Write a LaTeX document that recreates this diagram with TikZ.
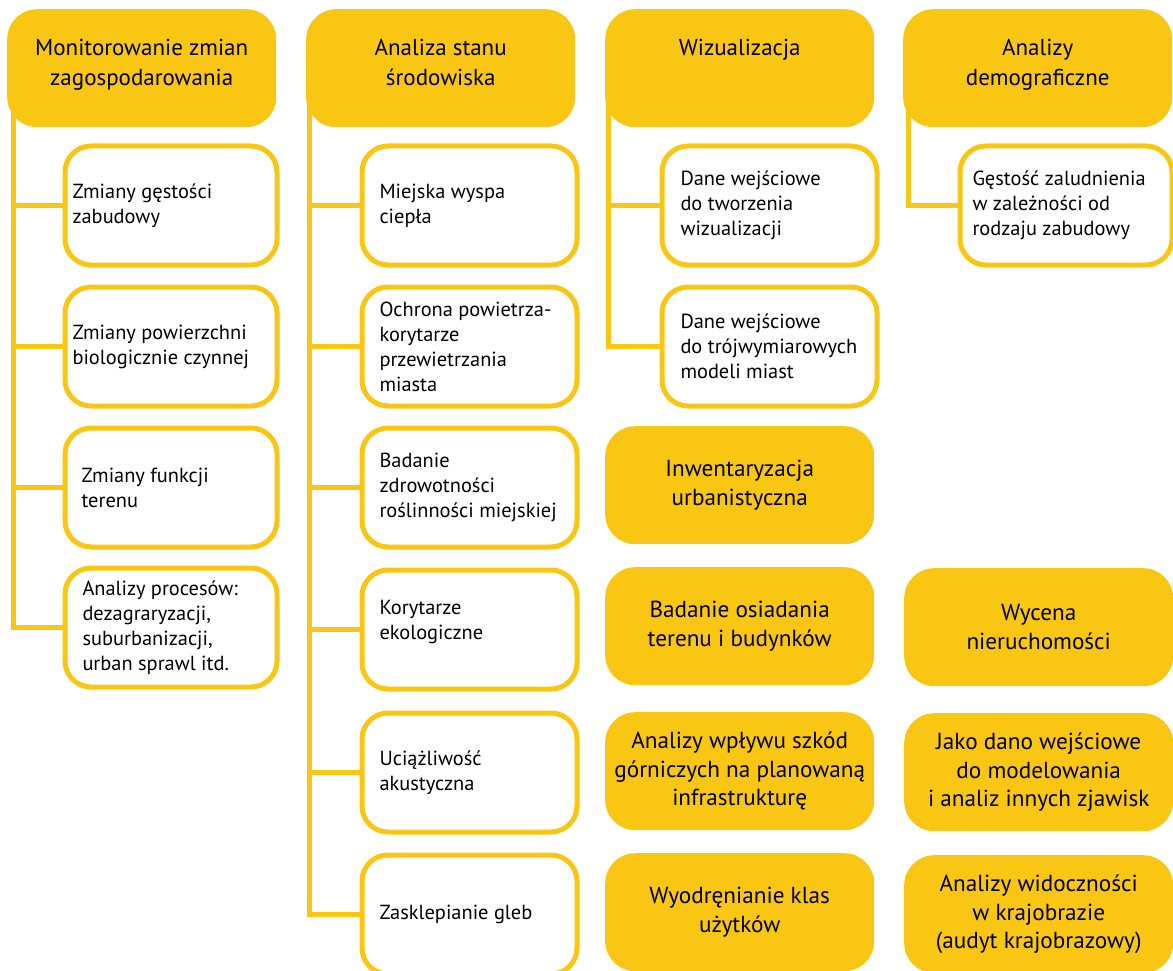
\documentclass[tikz,border=0pt]{standalone}
\usepackage{fontspec}
\setmainfont{PT Sans}
\definecolor{gold}{RGB}{250,198,20}
\newcommand{\hdtx}[1]{\parbox[c][118pt][t]{269pt}{\centering\rule{0pt}{46pt}#1}}
\newcommand{\fltx}[1]{\parbox[c][118pt][c]{269pt}{\centering #1}}
\newcommand{\chtx}[3]{\parbox[c][119pt][c]{#1}{\raggedright\leftskip=#2 #3}}
\begin{document}
\begin{tikzpicture}[x=1pt,y=-1pt,
  conn/.style={draw=gold,line width=5pt},
  hdr/.style={fill=gold,rounded corners=30pt,inner sep=0pt,anchor=north west,
    font=\fontsize{23}{30}\selectfont},
  fillbox/.style={fill=gold,rounded corners=30pt,inner sep=0pt,anchor=north west,
    font=\fontsize{23.2}{28.5}\selectfont},
  cbox/.style={draw=gold,fill=white,line width=5pt,rounded corners=26pt,inner sep=0pt,
    anchor=north west,font=\fontsize{20.4}{25}\selectfont}]
\useasboundingbox (0,0) rectangle (1173,971);

% trunk coordinates
\coordinate (t1) at (13.3,90);
\coordinate (t2) at (309.5,90);
\coordinate (t3) at (608.7,90);
\coordinate (t4) at (908,90);

% child boxes column 1
\node[cbox] (c11) at (62.5,143.5) {\chtx{212pt}{7.5pt}{Zmiany gęstości\\zabudowy}};
\node[cbox] (c12) at (62.5,284.5) {\chtx{212pt}{7.5pt}{Zmiany powierzchni\\biologicznie czynnej}};
\node[cbox] (c13) at (62.5,425.5) {\chtx{212pt}{16.5pt}{Zmiany funkcji\\terenu}};
\node[cbox] (c14) at (62.5,565.5) {\chtx{212pt}{17.5pt}{Analizy procesów:\\dezagraryzacji,\\suburbanizacji,\\urban sprawl itd.}};

% child boxes column 2
\node[cbox] (c21) at (359.5,143.5) {\chtx{215pt}{17.5pt}{Miejska wyspa\\ciepła}};
\node[cbox] (c22) at (359.5,284.5) {\chtx{215pt}{17.5pt}{Ochrona powietrza-\\korytarze\\przewietrzania\\miasta}};
\node[cbox] (c23) at (359.5,425.5) {\chtx{215pt}{17.5pt}{Badanie\\zdrowotności\\roślinności miejskiej}};
\node[cbox] (c24) at (359.5,567.5) {\chtx{215pt}{17.5pt}{Korytarze\\ekologiczne\par\vspace*{14pt}}};
\node[cbox] (c25) at (359.5,710.5) {\chtx{215pt}{17.5pt}{Uciążliwość\\akustyczna}};
\node[cbox] (c26) at (359.5,852.5) {\chtx{215pt}{17.5pt}{Zasklepianie gleb}};

% child boxes column 3
\node[cbox] (c31) at (659.5,143.5) {\chtx{215pt}{18.5pt}{Dane wejściowe\\do tworzenia\\wizualizacji}};
\node[cbox] (c32) at (659.5,284.5) {\chtx{215pt}{18.5pt}{Dane wejściowe\\do trójwymiarowych\\modeli miast}};

% child box column 4
\node[cbox] (c41) at (957.5,143.5) {\chtx{212pt}{12.5pt}{Gęstość zaludnienia\\w zależności od\\rodzaju zabudowy}};

% connectors
\draw[conn] (t1) |- (c11.west);
\draw[conn] (t1) |- (c12.west);
\draw[conn] (t1) |- (c13.west);
\draw[conn] (t1) |- (c14.west);
\draw[conn] (t2) |- (c21.west);
\draw[conn] (t2) |- (c22.west);
\draw[conn] (t2) |- (c23.west);
\draw[conn] (t2) |- (c24.west);
\draw[conn] (t2) |- (c25.west);
\draw[conn] (t2) |- (c26.west);
\draw[conn] (t3) |- (c31.west);
\draw[conn] (t3) |- (c32.west);
\draw[conn] (t4) |- (c41.west);

% headers
\node[hdr] (h1) at (7,9) {\hdtx{Monitorowanie zmian\\zagospodarowania}};
\node[hdr] (h2) at (306,9) {\hdtx{Analiza stanu\\środowiska}};
\node[hdr] (h3) at (605,9) {\hdtx{Wizualizacja}};
\node[hdr] (h4) at (903,9) {\hdtx{Analizy\\demograficzne}};

% filled boxes
\node[fillbox] (f1) at (605,426) {\fltx{Inwentaryzacja\\urbanistyczna}};
\node[fillbox] (f2) at (605,567) {\fltx{Badanie osiadania\\terenu i budynków}};
\node[fillbox] (f3) at (904,568) {\fltx{Wycena\\nieruchomości}};
\node[fillbox] (f4) at (605,712) {\fltx{Analizy wpływu szkód\\górniczych na planowaną\\infrastrukturę}};
\node[fillbox] (f5) at (904,713) {\fltx{Jako dano wejściowe\\do modelowania\\i analiz innych zjawisk}};
\node[fillbox] (f6) at (605,853) {\fltx{Wyodręnianie klas\\użytków}};
\node[fillbox] (f7) at (904,855) {\fltx{Analizy widoczności\\w krajobrazie\\(audyt krajobrazowy)}};
\end{tikzpicture}
\end{document}
